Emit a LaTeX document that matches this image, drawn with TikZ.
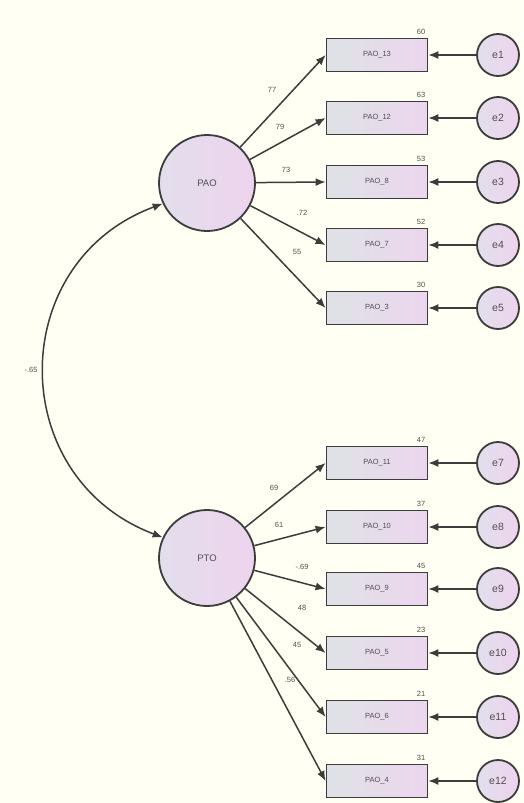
\documentclass[tikz,border=0pt]{standalone}
\usepackage{fontspec}
\setmainfont{Liberation Sans}
\usetikzlibrary{arrows.meta}
\definecolor{bg}{RGB}{255,255,243}
\definecolor{edge}{RGB}{60,60,60}
\definecolor{txt}{RGB}{80,80,80}
\definecolor{boxL}{RGB}{222,226,230}
\definecolor{boxR}{RGB}{236,214,238}
\definecolor{cirL}{RGB}{226,222,236}
\definecolor{cirR}{RGB}{238,212,238}
\tikzset{
  obs/.style={draw=edge, line width=1.8pt, minimum width=101pt, minimum height=33pt, left color=boxL, right color=boxR, font=\fontsize{7.5}{8}\selectfont, text=txt, inner sep=0pt},
  lat/.style={circle, draw=edge, line width=1.8pt, minimum size=96pt, left color=cirL, right color=cirR, font=\fontsize{9.5}{10}\selectfont, text=txt, inner sep=0pt},
  err/.style={circle, draw=edge, line width=1.8pt, minimum size=42pt, left color=cirL, right color=cirR, font=\fontsize{10.5}{11}\selectfont, text=txt, inner sep=0pt},
  arr/.style={draw=edge, line width=1.5pt, -{Latex[length=10pt,width=8pt]}},
  lbl/.style={font=\fontsize{7.5}{8}\selectfont, text=txt, inner sep=0pt},
}
\begin{document}
\begin{tikzpicture}[x=1pt,y=-1pt]
\fill[bg] (0,0) rectangle (523,803);
\useasboundingbox (0,0) rectangle (523,803);
% latent
\node[lat] (PAO) at (207,183) {PAO};
\node[lat] (PTO) at (207,558) {PTO};
% upper indicators
\foreach \n/\e/\y/\v in {13/1/55/60, 12/2/118/63, 8/3/182/53, 7/4/245/52, 3/5/308/30}{
  \node[obs] (b\n) at (377,\y) {PAO\_\n};
  \node[err] (e\e) at (498,\y) {e\e};
  \draw[arr] (e\e) -- (b\n.east);
  \draw[arr] (PAO) -- (b\n.west);
  \node[lbl, anchor=south east] at ([shift={(-3,-3)}]b\n.north east) {\v};
}
% lower indicators
\foreach \n/\e/\y/\v in {11/7/463/47, 10/8/527/37, 9/9/589/45, 5/10/653/23, 6/11/717/21, 4/12/781/31}{
  \node[obs] (b\n) at (377,\y) {PAO\_\n};
  \node[err] (e\e) at (498,\y) {e\e};
  \draw[arr] (e\e) -- (b\n.east);
  \draw[arr] (PTO) -- (b\n.west);
  \node[lbl, anchor=south east] at ([shift={(-3,-3)}]b\n.north east) {\v};
}
% loadings
\node[lbl] (l13) at (272,90) {77};
\node[lbl] (l12) at (280,127) {79};
\node[lbl] (l8) at (286,170) {73};
\node[lbl] (l7) at (302,213) {.72};
\node[lbl] (l3) at (297,252) {55};
\node[lbl] (l11) at (274,488) {69};
\node[lbl] (l10) at (279,525) {61};
\node[lbl] (l9) at (302,567) {-.69};
\node[lbl] (l5) at (302,608) {48};
\node[lbl] (l6) at (297,645) {45};
\node[lbl] (l4) at (290,680) {.56};
% covariance
\draw[draw=edge, line width=1.5pt, {Latex[length=10pt,width=8pt]}-{Latex[length=10pt,width=8pt]}] (PAO.205) .. controls (5,262) and (5,478) .. (PTO.155);
\node[lbl] (cov) at (31,370) {-.65};
\end{tikzpicture}
\end{document}
